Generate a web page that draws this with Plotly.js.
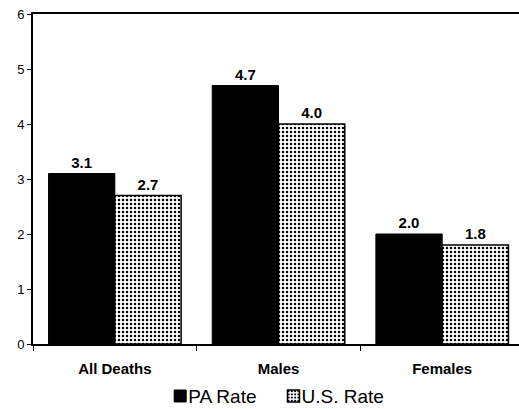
<!DOCTYPE html>
<html>
<head>
<meta charset="utf-8">
<script src="https://cdn.plot.ly/plotly-3.0.1.min.js"></script>
<style>
  html, body { margin: 0; padding: 0; background: #fff; overflow: hidden; width: 519px; height: 409px; }
  #chart { width: 524px; height: 430px; }
</style>
</head>
<body>
<div id="chart"></div>
<script>
// Rates by group, Pennsylvania vs. United States
const categories = ["All Deaths", "Males", "Females"];
const paRate = [3.1, 4.7, 2.0];
const usRate = [2.7, 4.0, 1.8];
const yTicks = [0, 1, 2, 3, 4, 5, 6];

const labelFont = { family: "Arial, Liberation Sans, sans-serif", size: 15, color: "#000", weight: "bold" };

const traces = [
  {
    type: "bar",
    name: "PA Rate",
    x: categories,
    y: paRate,
    text: paRate.map(v => v.toFixed(1)),
    textposition: "outside",
    textfont: labelFont,
    cliponaxis: false,
    marker: { color: "#000", line: { color: "#000", width: 1 } },
    hoverinfo: "skip"
  },
  {
    type: "bar",
    name: "U.S. Rate",
    x: categories,
    y: usRate,
    text: usRate.map(v => v.toFixed(1)),
    textposition: "outside",
    textfont: labelFont,
    cliponaxis: false,
    marker: {
      color: "#fff",
      line: { color: "#000", width: 1.5 },
      pattern: { shape: ".", size: 4, solidity: 0.3, fgcolor: "#000", bgcolor: "#fff", fillmode: "replace" }
    },
    hoverinfo: "skip"
  }
];

const layout = {
  width: 524,
  height: 430,
  margin: { l: 33, r: 0, t: 14, b: 86 },
  paper_bgcolor: "#fff",
  plot_bgcolor: "#fff",
  barmode: "group",
  bargap: 0.19,
  bargroupgap: 0,
  font: { family: "Arial, Liberation Sans, sans-serif", color: "#000" },
  showlegend: true,
  legend: {
    orientation: "h",
    x: 0.48, xanchor: "center",
    y: -0.158, yanchor: "middle",
    font: { size: 19, color: "#000" },
    itemwidth: 30,
    traceorder: "normal"
  },
  xaxis: {
    type: "category",
    tickson: "boundaries",
    ticks: "outside",
    ticklen: 5,
    tickcolor: "#000",
    ticklabelstandoff: 10,
    showline: true,
    linecolor: "#000",
    linewidth: 2,
    mirror: true,
    showgrid: false,
    tickfont: { size: 15, weight: "bold", color: "#000" },
    fixedrange: true
  },
  yaxis: {
    range: [0, 6],
    tickvals: yTicks,
    ticktext: yTicks.map(String),
    ticks: "outside",
    ticklen: 4,
    tickcolor: "#000",
    showline: true,
    linecolor: "#000",
    linewidth: 2,
    showgrid: false,
    zeroline: false,
    tickfont: { size: 13, color: "#000" },
    fixedrange: true
  }
};

Plotly.newPlot("chart", traces, layout, { displayModeBar: false, staticPlot: true }).then(gd => {
  // pull each legend swatch closer to its label
  gd.querySelectorAll(".legend .traces .legendsymbols").forEach(g => {
    g.setAttribute("transform", "translate(12,0)");
  });
});
</script>
</body>
</html>
